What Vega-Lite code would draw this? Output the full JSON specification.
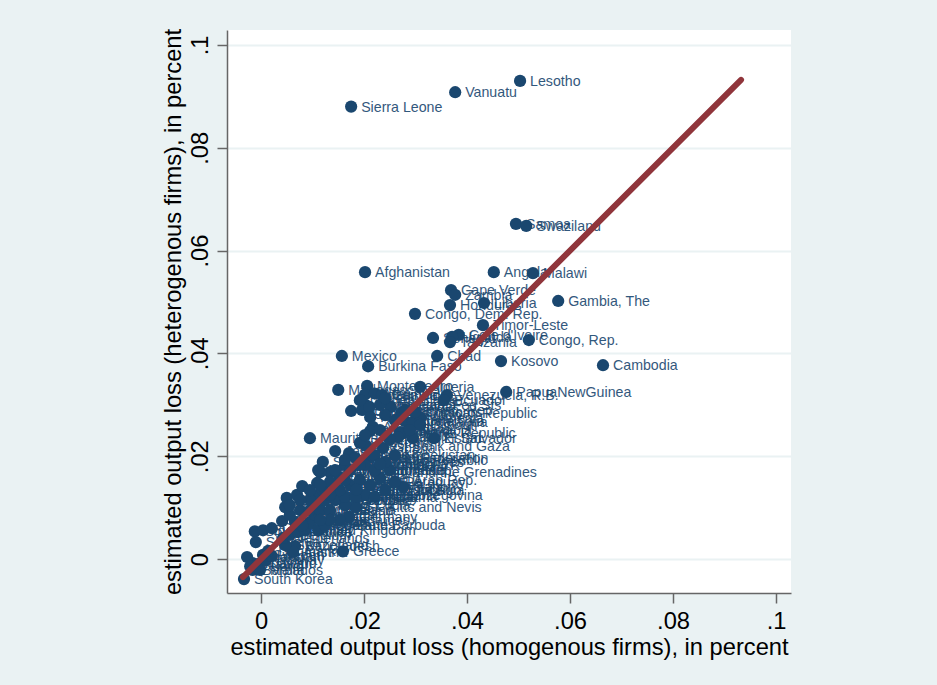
{"$schema":"https://vega.github.io/schema/vega-lite/v6.json","width":564,"height":563,"autosize":"none","padding":{"left":227,"top":30,"right":146,"bottom":92},"background":"#EAF2F3","view":{"fill":"#FFFFFF","stroke":null},"config":{"font":"Liberation Sans"},"data":{"values":[{"c":"Lesotho","x":0.0503,"y":0.093},{"c":"Vanuatu","x":0.0377,"y":0.0908},{"c":"Sierra Leone","x":0.0175,"y":0.088},{"c":"Samoa","x":0.0495,"y":0.0652},{"c":"Swaziland","x":0.0515,"y":0.0648},{"c":"Afghanistan","x":0.0202,"y":0.0558},{"c":"Angola","x":0.0452,"y":0.0558},{"c":"Malawi","x":0.0528,"y":0.0556},{"c":"Cape Verde","x":0.0369,"y":0.0523},{"c":"Zambia","x":0.0377,"y":0.0514},{"c":"Honduras","x":0.0367,"y":0.0494},{"c":"Liberia","x":0.0433,"y":0.0498},{"c":"Gambia, The","x":0.0577,"y":0.0502},{"c":"Congo, Dem. Rep.","x":0.0299,"y":0.0477},{"c":"Timor-Leste","x":0.0431,"y":0.0455},{"c":"Cote d'Ivoire","x":0.0384,"y":0.0436},{"c":"Senegal","x":0.0334,"y":0.043},{"c":"Uganda","x":0.0371,"y":0.0432},{"c":"Tanzania","x":0.0367,"y":0.0422},{"c":"Congo, Rep.","x":0.052,"y":0.0426},{"c":"Mexico","x":0.0157,"y":0.0395},{"c":"Chad","x":0.0342,"y":0.0395},{"c":"Burkina Faso","x":0.0208,"y":0.0375},{"c":"Kosovo","x":0.0466,"y":0.0385},{"c":"Cambodia","x":0.0664,"y":0.0377},{"c":"Madagascar","x":0.015,"y":0.0329},{"c":"Montenegro","x":0.0206,"y":0.0337},{"c":"Algeria","x":0.0309,"y":0.0335},{"c":"Mozambique","x":0.0202,"y":0.032},{"c":"Mali","x":0.0221,"y":0.0322},{"c":"Guinea","x":0.0235,"y":0.0319},{"c":"Venezuela, R.B.","x":0.0361,"y":0.0319},{"c":"Ecuador","x":0.0355,"y":0.0309},{"c":"PapuaNewGuinea","x":0.0476,"y":0.0325},{"c":"Micronesia, Fed Sts","x":0.0204,"y":0.0299},{"c":"Dominican Republic","x":0.0272,"y":0.0284},{"c":"Niger","x":0.0175,"y":0.0288},{"c":"Ethiopia","x":0.0196,"y":0.029},{"c":"Benin","x":0.021,"y":0.0296},{"c":"Nepal","x":0.0212,"y":0.0276},{"c":"Rwanda","x":0.0252,"y":0.0296},{"c":"Yemen, Rep.","x":0.028,"y":0.029},{"c":"Guatemala","x":0.028,"y":0.0268},{"c":"Nicaragua","x":0.0295,"y":0.0267},{"c":"Armenia","x":0.031,"y":0.0275},{"c":"Kyrgyz Republic","x":0.0276,"y":0.0245},{"c":"El Salvador","x":0.0336,"y":0.0235},{"c":"West Bank and Gaza","x":0.0204,"y":0.022},{"c":"Mauritius","x":0.0095,"y":0.0235},{"c":"Albania","x":0.0217,"y":0.0257},{"c":"Burundi","x":0.0212,"y":0.0249},{"c":"Kenya","x":0.027,"y":0.0247},{"c":"Haiti","x":0.0266,"y":0.0237},{"c":"Tajikistan","x":0.0295,"y":0.0235},{"c":"Pakistan","x":0.0192,"y":0.0226},{"c":"Serbia","x":0.012,"y":0.0189},{"c":"Jamaica","x":0.0144,"y":0.021},{"c":"Sri Lanka","x":0.0171,"y":0.0206},{"c":"Ghana","x":0.0237,"y":0.0216},{"c":"Russian Federation","x":0.0183,"y":0.0197},{"c":"Uzbekistan","x":0.026,"y":0.0202},{"c":"Georgia","x":0.0212,"y":0.0198},{"c":"St. Vincent and the Grenadines","x":0.0134,"y":0.0169},{"c":"Lebanon","x":0.0115,"y":0.0169},{"c":"Colombia","x":0.0202,"y":0.0183},{"c":"Macedonia, FYR","x":0.0163,"y":0.0183},{"c":"Singapore","x":-0.0012,"y":0.0054},{"c":"Slovenia","x":-0.001,"y":0.0033},{"c":"Bulgaria","x":0.0004,"y":0.0056},{"c":"Croatia","x":0.0021,"y":0.006},{"c":"Estonia","x":0.0041,"y":0.0074},{"c":"Latvia","x":0.0047,"y":0.0101},{"c":"Lithuania","x":0.005,"y":0.0119},{"c":"Azerbaijan","x":0.007,"y":0.0125},{"c":"Belarus","x":0.008,"y":0.0142},{"c":"Kazakhstan","x":0.0109,"y":0.0148},{"c":"Moldova","x":0.0111,"y":0.0173},{"c":"South Korea","x":-0.0033,"y":-0.0039},{"c":"Thailand","x":-0.0017,"y":-0.0008},{"c":"Finland","x":-0.0027,"y":0.0004},{"c":"Barbados","x":-0.0017,"y":-0.0021},{"c":"Ireland","x":-0.0021,"y":-0.0014},{"c":"Taiwan","x":-0.0006,"y":-0.001},{"c":"Malta","x":-0.0002,"y":-0.0021},{"c":"Sweden","x":0.0004,"y":0.0008},{"c":"Norway","x":0.001,"y":-0.0002},{"c":"Japan","x":0.0021,"y":0.0006},{"c":"Denmark","x":0.0014,"y":0.0016},{"c":"Greece","x":0.0159,"y":0.0015},{"c":"Bangladesh","x":0.0066,"y":0.0025},{"c":"Austria","x":0.0062,"y":0.0014},{"c":"Switzerland","x":0.0047,"y":0.0027},{"c":"Netherlands","x":0.0043,"y":0.0041},{"c":"Belgium","x":0.0056,"y":0.0047},{"c":"France","x":0.0072,"y":0.0053},{"c":"United Kingdom","x":0.0085,"y":0.0056},{"c":"United States","x":0.0076,"y":0.0066},{"c":"Canada","x":0.0095,"y":0.0072},{"c":"Australia","x":0.0066,"y":0.0072},{"c":"Antigua and Barbuda","x":0.008,"y":0.0066},{"c":"Germany","x":0.0171,"y":0.0082},{"c":"Italy","x":0.0111,"y":0.0056},{"c":"Spain","x":0.0124,"y":0.0066},{"c":"Portugal","x":0.0105,"y":0.0086},{"c":"Israel","x":0.0056,"y":0.0086},{"c":"New Zealand","x":0.0076,"y":0.0095},{"c":"Cyprus","x":0.0095,"y":0.0095},{"c":"China","x":0.0115,"y":0.0095},{"c":"Malaysia","x":0.0134,"y":0.0095},{"c":"St. Kitts and Nevis","x":0.0184,"y":0.0101},{"c":"St. Lucia","x":0.0163,"y":0.0105},{"c":"Grenada","x":0.0144,"y":0.0115},{"c":"Dominica","x":0.0163,"y":0.0121},{"c":"Bosnia and Herzegovina","x":0.0111,"y":0.0125},{"c":"Trinidad and Tobago","x":0.012,"y":0.0134},{"c":"Gabon","x":0.0276,"y":0.014},{"c":"Tunisia","x":0.0153,"y":0.0134},{"c":"Morocco","x":0.0173,"y":0.0144},{"c":"Egypt, Arab Rep.","x":0.0192,"y":0.0154},{"c":"Turkey","x":0.0212,"y":0.0144},{"c":"Peru","x":0.0231,"y":0.0158},{"c":"Bhutan","x":0.025,"y":0.0173},{"c":"Indonesia","x":0.0221,"y":0.0173},{"c":"Philippines","x":0.0241,"y":0.0189},{"c":"Vietnam","x":0.0173,"y":0.0173},{"c":"Ukraine","x":0.0153,"y":0.0158},{"c":"Romania","x":0.0134,"y":0.015},{"c":"Belize","x":0.0202,"y":0.0125},{"c":"Panama","x":0.0221,"y":0.0121},{"c":"Costa Rica","x":0.0241,"y":0.0134},{"c":"Paraguay","x":0.026,"y":0.015},{"c":"Uruguay","x":0.0183,"y":0.0121},{"c":"Jordan","x":0.0163,"y":0.0154},{"c":"Iran, Islamic Rep.","x":0.0144,"y":0.0173},{"c":"Poland","x":0.0095,"y":0.0115},{"c":"Hungary","x":0.0124,"y":0.0115},{"c":"Czech Republic","x":0.0134,"y":0.0125},{"c":"Slovak Republic","x":0.0076,"y":0.0115},{"c":"Chile","x":0.0095,"y":0.0134},{"c":"Argentina","x":0.0115,"y":0.0144},{"c":"Hong Kong","x":0.0056,"y":0.0105},{"c":"Bahamas","x":0.0153,"y":0.0076},{"c":"Fiji","x":0.0134,"y":0.0076},{"c":"Brazil","x":0.0115,"y":0.0076},{"c":"Cameroon","x":0.0241,"y":0.028},{"c":"Sudan","x":0.026,"y":0.027},{"c":"Mauritania","x":0.0231,"y":0.03},{"c":"Lao PDR","x":0.0241,"y":0.0313},{"c":"Guinea-Bissau","x":0.0192,"y":0.0309},{"c":"Comoros","x":0.0299,"y":0.0286},{"c":"Djibouti","x":0.0309,"y":0.0261},{"c":"Namibia","x":0.0289,"y":0.0251},{"c":"Botswana","x":0.0231,"y":0.0251},{"c":"India","x":0.025,"y":0.0232},{"c":"Bolivia","x":0.0202,"y":0.0241},{"c":"Syrian Arab Republic","x":0.0163,"y":0.0193},{"c":"Myanmar","x":0.0192,"y":0.0183},{"c":"Iraq","x":0.0221,"y":0.0202},{"c":"Mongolia","x":0.0231,"y":0.0185},{"c":"South Africa","x":0.0185,"y":0.0135}]},"layer":[{"mark":{"type":"circle","size":150,"opacity":1,"color":"#1A476F"},"encoding":{"x":{"field":"x","type":"quantitative","scale":{"domain":[-0.0066,0.1029],"nice":false,"zero":false},"axis":{"values":[0,0.02,0.04,0.06,0.08,0.1],"labelExpr":"datum.value==0?'0':datum.value==0.1?'.1':slice(format(datum.value,'.2f'),1)","title":"estimated output loss (homogenous firms), in percent","titleFontSize":23.7,"titleFontWeight":"normal","titleColor":"#000000","titlePadding":3,"labelFontSize":23.7,"labelColor":"#000000","labelPadding":6,"tickSize":10,"tickColor":"#666666","tickWidth":1.5,"domainColor":"#666666","domainWidth":1.5,"grid":false,"labelFlush":false}},"y":{"field":"y","type":"quantitative","scale":{"domain":[-0.0066,0.1029],"nice":false,"zero":false},"axis":{"values":[0,0.02,0.04,0.06,0.08,0.1],"labelExpr":"datum.value==0?'0':datum.value==0.1?'.1':slice(format(datum.value,'.2f'),1)","title":"estimated output loss (heterogenous firms), in percent","titleFontSize":23.7,"titleFontWeight":"normal","titleColor":"#000000","titlePadding":3,"labelFontSize":23.7,"labelColor":"#000000","labelAngle":-90,"labelAlign":"center","labelBaseline":"bottom","labelPadding":5,"tickSize":10,"tickColor":"#666666","tickWidth":1.5,"domainColor":"#666666","domainWidth":1.5,"grid":true,"gridColor":"#EAF2F3","gridWidth":2,"labelFlush":false}}}},{"mark":{"type":"text","align":"left","baseline":"middle","dx":10,"dy":1,"fontSize":14.2,"color":"#1A476F","opacity":0.9},"encoding":{"x":{"field":"x","type":"quantitative"},"y":{"field":"y","type":"quantitative"},"text":{"field":"c"}}},{"data":{"values":[{"x":-0.0035,"y":-0.0035},{"x":0.0932,"y":0.0932}]},"mark":{"type":"line","color":"#90353B","strokeWidth":6,"strokeCap":"round"},"encoding":{"x":{"field":"x","type":"quantitative"},"y":{"field":"y","type":"quantitative"}}}]}
